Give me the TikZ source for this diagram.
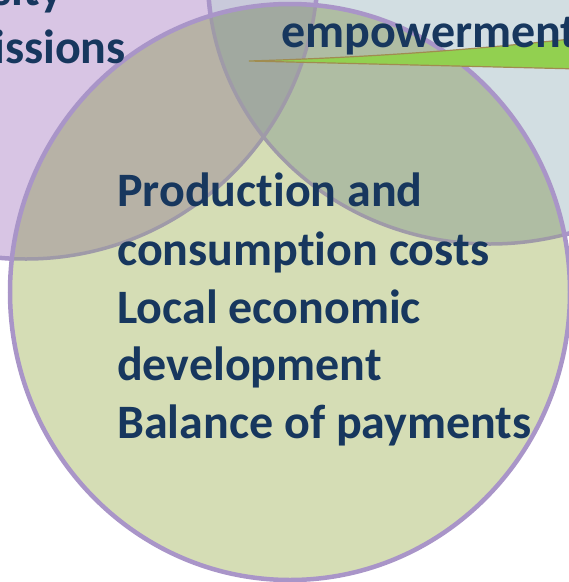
\documentclass[tikz,border=0pt]{standalone}
\usepackage{fontspec}
\setmainfont{Carlito}[Ligatures=NoCommon]
\usepackage{tikz}
\usetikzlibrary{positioning}
\usepackage{xcolor}
\definecolor{ink}{HTML}{17375E}
\definecolor{rim}{HTML}{A995C8}
\definecolor{lilac}{HTML}{D8C5E4}
\definecolor{frost}{HTML}{D2DEE2}
\definecolor{lime}{HTML}{D5DDB5}
\definecolor{lilacfrost}{HTML}{C9CADB}
\definecolor{lilaclime}{HTML}{B7B2A6}
\definecolor{frostlime}{HTML}{AFBDA3}
\definecolor{core}{HTML}{A1A9A0}
\definecolor{seam}{HTML}{9F9AA8}
\definecolor{leaf}{HTML}{92D050}
\definecolor{olive}{HTML}{A08C50}
\tikzset{rimline/.style={draw=rim,line width=4.5pt},seamline/.style={draw=seam,line width=3.5pt},venntext/.style={font=\fontsize{48}{58}\selectfont\bfseries,text=ink,inner sep=0pt}}
\def\lilacset{(26,-33) circle[radius=292]}
\def\frostset{(490,-21) ellipse[x radius=282,y radius=265]}
\def\limeset{(290,292) ellipse[x radius=280,y radius=288]}

\begin{document}
\begin{tikzpicture}[x=1pt,y=-1pt]
\useasboundingbox (0,0) rectangle (569,582);
\clip (0,0) rectangle (569,582);
\fill[lilac] \lilacset;
\fill[frost] \frostset;
\begin{scope}\clip \lilacset; \fill[lilacfrost] \frostset; \end{scope}
\draw[rimline] \lilacset;
\draw[rimline] \frostset;
\fill[lime] \limeset;
\begin{scope}
\clip \limeset;
\fill[lilaclime] \lilacset;
\fill[frostlime] \frostset;
\begin{scope}\clip \lilacset; \fill[core] \frostset; \end{scope}
\draw[seamline] \lilacset;
\draw[seamline] \frostset;
\end{scope}
\draw[rimline] \limeset;
\draw[olive,line width=1.2pt,fill=leaf] (249,61) .. controls (380,57) and (480,49) .. (580,38) -- (580,69) -- cycle;
\node[venntext,anchor=base east] (sity) at (63,5) {sity};
\node[venntext,anchor=base east] (issions) at (126,63) {issions};
\node[venntext,anchor=base west] (empower) at (281,47) {empowerment};
\node[venntext,anchor=base west] (prod) at (117,206) {Production and};
\node[venntext,anchor=base west] (cons) at (117,265) {consumption costs};
\node[venntext,anchor=base west] (local) at (117,323) {Local economic};
\node[venntext,anchor=base west] (devel) at (117,380) {development};
\node[venntext,anchor=base west] (balance) at (117,438) {Balance of payments};
\end{tikzpicture}
\end{document}
